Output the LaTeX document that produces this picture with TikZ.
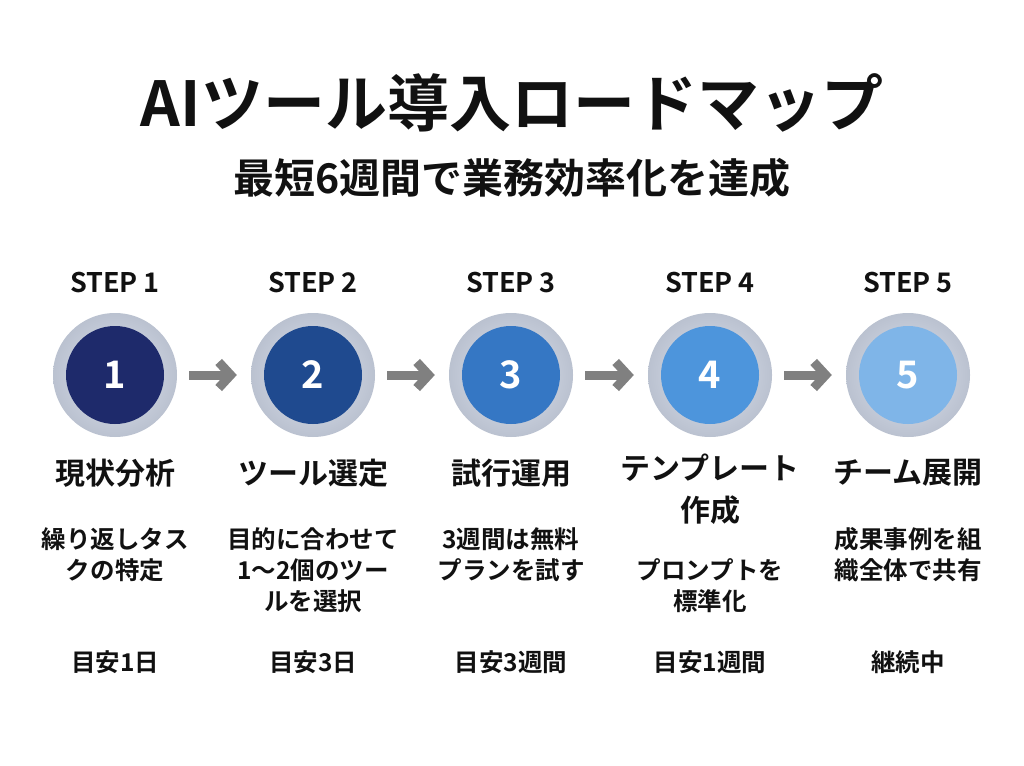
\documentclass[tikz,border=0pt]{standalone}
\usepackage{fontspec}
\setmainfont{Noto Sans CJK JP}[BoldFont={Noto Sans CJK JP Bold}]
\newfontfamily\jpb{Noto Sans CJK JP Bold}
\usetikzlibrary{arrows.meta}
\definecolor{ca}{HTML}{1E2A6B}\definecolor{cb}{HTML}{1F4A8F}\definecolor{cc}{HTML}{3577C4}
\definecolor{cd}{HTML}{4D95DC}\definecolor{ce}{HTML}{7FB5E8}\definecolor{ring}{HTML}{C9D2E4}
\definecolor{tcol}{HTML}{111111}
\tikzset{
  tx/.style={text=tcol,align=center,inner sep=0pt},
  stepl/.style={tx,font=\jpb\fontsize{27}{30}\selectfont},
  namel/.style={tx,font=\jpb\fontsize{30}{42}\selectfont},
  descl/.style={tx,font=\jpb\fontsize{24.5}{31}\selectfont},
  ar/.style={draw=black!50,line width=9pt,-{Straight Barb[length=12pt,width=26pt,line width=9pt]}}}
\begin{document}
\begin{tikzpicture}[x=1pt,y=-1pt]
\fill[white] (0,0) rectangle (1024,765);
\node[tx,font=\jpb\fontsize{62}{66}\selectfont] (t) at (512,103) {AIツール導入ロードマップ};
\node[tx,font=\jpb\fontsize{41}{46}\selectfont] (s) at (512,178) {最短6週間で業務効率化を達成};
\foreach \i/\x/\c in {1/115/ca,2/313/cb,3/511/cc,4/710/cd,5/908/ce}{
  \node[stepl] (st\i) at (\x,283) {STEP \i};
  \node[circle,minimum size=124pt,inner sep=0pt,inner color=ring!60,outer color=ring!80!gray] (o\i) at (\x,375) {};
  \node[circle,fill=\c,minimum size=98pt,inner sep=0pt,text=white,font=\jpb\fontsize{38}{40}\selectfont] (c\i) at (\x,375) {\i};
}
\foreach \a/\b in {1/2,2/3,3/4,4/5}{
  \draw[ar,shorten <=12pt,shorten >=14pt] (o\a.east) -- (o\b.west);
}
\node[namel] (n1) at (115,473) {現状分析};
\node[namel] (n2) at (313,473) {ツール選定};
\node[namel] (n3) at (511,473) {試行運用};
\node[namel,anchor=north] (n4) at (710,454) {テンプレート\\作成};
\node[namel] (n5) at (908,473) {チーム展開};
\node[descl] (d1) at (115,555) {繰り返しタス\\クの特定};
\node[descl] (d2) at (313,570) {目的に合わせて\\1〜2個のツー\\ルを選択};
\node[descl] (d3) at (511,555) {3週間は無料\\プランを試す};
\node[descl] (d4) at (710,586) {プロンプトを\\標準化};
\node[descl] (d5) at (908,555) {成果事例を組\\織全体で共有};
\foreach \i/\x/\t in {1/115/目安1日,2/313/目安3日,3/511/目安3週間,4/710/目安1週間,5/908/継続中}
  \node[descl] (m\i) at (\x,662) {\t};
\end{tikzpicture}
\end{document}
